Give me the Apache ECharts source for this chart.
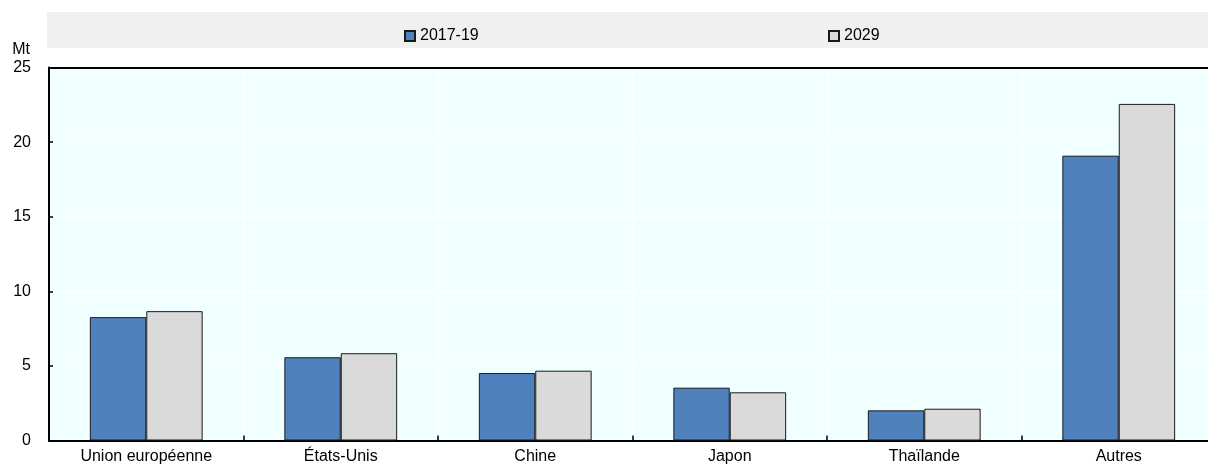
<!DOCTYPE html>
<html>
<head>
<meta charset="utf-8">
<script src="https://cdn.jsdelivr.net/npm/echarts@6/dist/echarts.min.js"></script>
<style>
  html, body { margin: 0; padding: 0; background: #fff; }
  #main { width: 1208px; height: 464px; }
</style>
</head>
<body>
<div id="main"></div>
<script>
// données
const categories = ['Union européenne', 'États-Unis', 'Chine', 'Japon', 'Thaïlande', 'Autres']
const base2017 = [8.27, 5.58, 4.52, 3.54, 2.02, 19.09]
const proj2029 = [8.67, 5.85, 4.68, 3.23, 2.13, 22.56]
const seriesNames = ['2017-19', '2029']
const yTicks = [0, 5, 10, 15, 20, 25]

const font = "'Liberation Sans', Arial, sans-serif"
const fs = 16

const myChart = echarts.init(document.getElementById('main'), null, { renderer: 'canvas' })

myChart.setOption({
  animation: false,
  textStyle: { fontFamily: font },
  graphic: [
    {
      type: 'rect',
      z: -10,
      shape: { x: 47, y: 12, width: 1170, height: 36 },
      style: { fill: '#F0F0F0' }
    }
  ],
  legend: [
    {
      data: [seriesNames[0]],
      icon: 'rect',
      left: 399,
      top: 23,
      itemWidth: 10,
      itemHeight: 10,
      textStyle: { fontFamily: font, fontSize: fs, color: '#000' }
    },
    {
      data: [seriesNames[1]],
      icon: 'rect',
      left: 823,
      top: 23,
      itemWidth: 10,
      itemHeight: 10,
      textStyle: { fontFamily: font, fontSize: fs, color: '#000' }
    }
  ],
  grid: {
    left: 49,
    width: 1167,
    top: 67.5,
    bottom: 23.5,
    outerBoundsMode: 'none',
    show: true,
    backgroundColor: '#F0FFFF',
    borderWidth: 0
  },
  xAxis: [
    {
      type: 'category',
      data: categories,
      axisLine: { lineStyle: { color: '#000', width: 2 } },
      axisTick: { show: true, inside: true, length: 5, lineStyle: { color: '#000', width: 1.5 } },
      axisLabel: { color: '#000', fontSize: fs, margin: 8, fontFamily: font },
      splitLine: { show: true, lineStyle: { color: '#fff', width: 1.5 } }
    },
    {
      // bordure du haut
      type: 'category',
      position: 'top',
      data: categories,
      axisLine: { show: true, lineStyle: { color: '#000', width: 2 } },
      axisTick: { show: false },
      axisLabel: { show: false },
      splitLine: { show: false }
    }
  ],
  yAxis: {
    type: 'value',
    min: yTicks[0],
    max: yTicks[yTicks.length - 1],
    interval: 5,
    name: 'Mt',
    nameLocation: 'end',
    nameGap: 10,
    nameTextStyle: { align: 'right', color: '#000', fontSize: fs, padding: [0, 19, 0, 0], fontFamily: font },
    axisLine: { show: true, lineStyle: { color: '#000', width: 2 } },
    axisTick: { show: true, inside: true, length: 4, lineStyle: { color: '#000', width: 1.5 } },
    axisLabel: { color: '#000', fontSize: fs, margin: 18, fontFamily: font },
    splitLine: { show: true, lineStyle: { color: '#fff', width: 1.5 } }
  },
  series: [
    {
      name: seriesNames[0],
      type: 'bar',
      data: base2017,
      barGap: '0%',
      barCategoryGap: '42%',
      itemStyle: { color: '#4F81BD', borderColor: '#1a1a1a', borderWidth: 1 }
    },
    {
      name: seriesNames[1],
      type: 'bar',
      data: proj2029,
      barGap: '0%',
      barCategoryGap: '42%',
      itemStyle: { color: '#DADADA', borderColor: '#1a1a1a', borderWidth: 1 }
    }
  ]
})
</script>
</body>
</html>
